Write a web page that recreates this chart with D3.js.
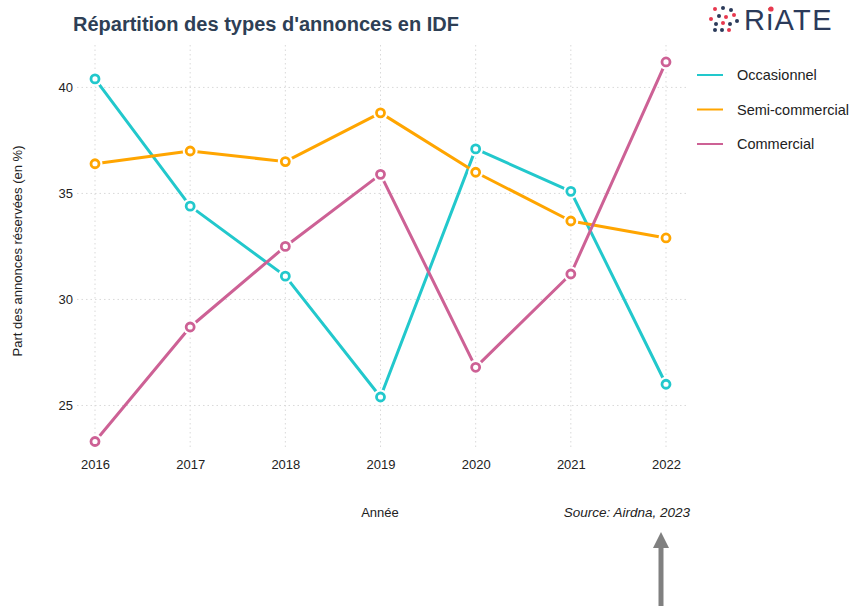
<!DOCTYPE html>
<meta charset="utf-8">
<script src="https://d3js.org/d3.v7.min.js"></script>
<style>
  body { margin: 0; background: #fff; }
  text { font-family: "Liberation Sans", Arial, sans-serif; }
</style>
<div id="chart"></div>
<script>

// data
const years = [2016, 2017, 2018, 2019, 2020, 2021, 2022];
const occasionnel = [40.4, 34.4, 31.1, 25.4, 37.1, 35.1, 26.0];
const semiCommercial = [36.4, 37.0, 36.5, 38.8, 36.0, 33.7, 32.9];
const commercial = [23.3, 28.7, 32.5, 35.9, 26.8, 31.2, 41.2];
const yTicks = [25, 30, 35, 40];
const seriesNames = ["Occasionnel", "Semi-commercial", "Commercial"];
const seriesColors = ["#22c8cc", "#ffa500", "#cd6195"];

const series = [occasionnel, semiCommercial, commercial].map((vals, i) => ({
  name: seriesNames[i],
  color: seriesColors[i],
  values: vals.map((v, j) => ({ year: years[j], value: v }))
}));

const W = 849, H = 606;
const svg = d3.select("#chart").append("svg")
  .attr("width", W)
  .attr("height", H);

const x = d3.scalePoint()
  .domain(years)
  .range([95, 666]);

const y = d3.scaleLinear()
  .domain([22.9, 42.0])
  .range([450, 45]);

// grid
const grid = svg.append("g");
grid.selectAll(".vgrid")
  .data(years)
  .join("line")
    .attr("x1", d => x(d)).attr("x2", d => x(d))
    .attr("y1", 45).attr("y2", 450)
    .attr("stroke", "#d9d9d9")
    .attr("stroke-width", 1)
    .attr("stroke-dasharray", "1.5,3");
grid.selectAll(".hgrid")
  .data(yTicks)
  .join("line")
    .attr("x1", 77).attr("x2", 688)
    .attr("y1", d => y(d)).attr("y2", d => y(d))
    .attr("stroke", "#d9d9d9")
    .attr("stroke-width", 1)
    .attr("stroke-dasharray", "1.5,3");

// axes (labels only)
const xAxis = svg.append("g")
  .attr("transform", "translate(0, 456)")
  .call(d3.axisBottom(x).tickSize(0).tickPadding(4).tickFormat(d3.format("d")));
xAxis.select(".domain").remove();
xAxis.selectAll("text").attr("font-size", 13).attr("fill", "#222");

const yAxis = svg.append("g")
  .attr("transform", "translate(73, 0)")
  .call(d3.axisLeft(y).tickValues(yTicks).tickSize(0).tickPadding(0));
yAxis.select(".domain").remove();
yAxis.selectAll("text").attr("font-size", 13).attr("fill", "#222");

// lines
const line = d3.line()
  .x(d => x(d.year))
  .y(d => y(d.value));

const sg = svg.selectAll(".series")
  .data(series)
  .join("g");

sg.append("path")
  .attr("d", d => line(d.values))
  .attr("fill", "none")
  .attr("stroke", d => d.color)
  .attr("stroke-width", 3)
  .attr("stroke-linejoin", "round");

// white halo so the line stops short of the point
sg.selectAll(".halo")
  .data(d => d.values.map(v => ({ ...v, color: d.color })))
  .join("circle")
    .attr("cx", d => x(d.year))
    .attr("cy", d => y(d.value))
    .attr("r", 7.5)
    .attr("fill", "#fff");

sg.selectAll(".pt")
  .data(d => d.values.map(v => ({ ...v, color: d.color })))
  .join("circle")
    .attr("cx", d => x(d.year))
    .attr("cy", d => y(d.value))
    .attr("r", 4)
    .attr("fill", "#fff")
    .attr("stroke", d => d.color)
    .attr("stroke-width", 2.8);

// title
svg.append("text")
  .attr("x", 73).attr("y", 31)
  .attr("font-size", 20)
  .attr("font-weight", "bold")
  .attr("fill", "#2e3f55")
  .text("Répartition des types d'annonces en IDF");

// axis titles
svg.append("text")
  .attr("x", 380).attr("y", 517)
  .attr("text-anchor", "middle")
  .attr("font-size", 13)
  .attr("fill", "#222")
  .text("Année");

svg.append("text")
  .attr("transform", "translate(22, 251) rotate(-90)")
  .attr("text-anchor", "middle")
  .attr("font-size", 13)
  .attr("fill", "#222")
  .text("Part des annonces réservées (en %)");

svg.append("text")
  .attr("x", 690).attr("y", 517)
  .attr("text-anchor", "end")
  .attr("font-size", 13.5)
  .attr("font-style", "italic")
  .attr("fill", "#222")
  .text("Source: Airdna, 2023");

// legend
const legend = svg.append("g").attr("transform", "translate(697, 77)");
const li = legend.selectAll("g")
  .data(series)
  .join("g")
    .attr("transform", (d, i) => `translate(0, ${i * 34.5})`);
li.append("line")
  .attr("x1", 0).attr("x2", 26)
  .attr("y1", -2).attr("y2", -2)
  .attr("stroke", d => d.color)
  .attr("stroke-width", 2);
li.append("text")
  .attr("x", 40).attr("y", 3)
  .attr("font-size", 14.5)
  .attr("fill", "#222")
  .text(d => d.name);

// arrow annotation below the source
svg.append("defs").append("marker")
  .attr("id", "head")
  .attr("viewBox", "0 0 10 10")
  .attr("refX", 5).attr("refY", 5)
  .attr("markerWidth", 3.2).attr("markerHeight", 3.2)
  .attr("orient", "auto")
  .append("path")
    .attr("d", "M0,0 L10,5 L0,10 Z")
    .attr("fill", "#808080");
svg.append("line")
  .attr("x1", 661).attr("x2", 661)
  .attr("y1", 606).attr("y2", 540)
  .attr("stroke", "#808080")
  .attr("stroke-width", 5)
  .attr("marker-end", "url(#head)");

// RIATE logo (rough)
const logo = svg.append("g").attr("transform", "translate(711, 6)");
const dots = [
  [4, 3, "#e8384f"], [12, 2, "#2b3a5a"], [20, 4, "#2b3a5a"],
  [0, 13, "#e8384f"], [8, 10, "#2b3a5a"], [15, 11, "#e8384f"], [23, 9, "#e8384f"],
  [5, 18, "#2b3a5a"], [12, 17, "#e8384f"], [19, 18, "#2b3a5a"], [26, 15, "#2b3a5a"],
  [4, 24, "#2b3a5a"], [11, 24, "#2b3a5a"], [18, 24, "#e8384f"]
];
logo.selectAll("circle")
  .data(dots)
  .join("circle")
    .attr("cx", d => d[0]).attr("cy", d => d[1])
    .attr("r", 2)
    .attr("fill", d => d[2]);
logo.append("text")
  .attr("x", 33).attr("y", 24)
  .attr("font-size", 29)
  .attr("fill", "#2b3a5a")
  .attr("letter-spacing", 1.5)
  .text("RiATE");
logo.append("circle")
  .attr("cx", 60).attr("cy", 3).attr("r", 2.6).attr("fill", "#e8384f");

</script>
